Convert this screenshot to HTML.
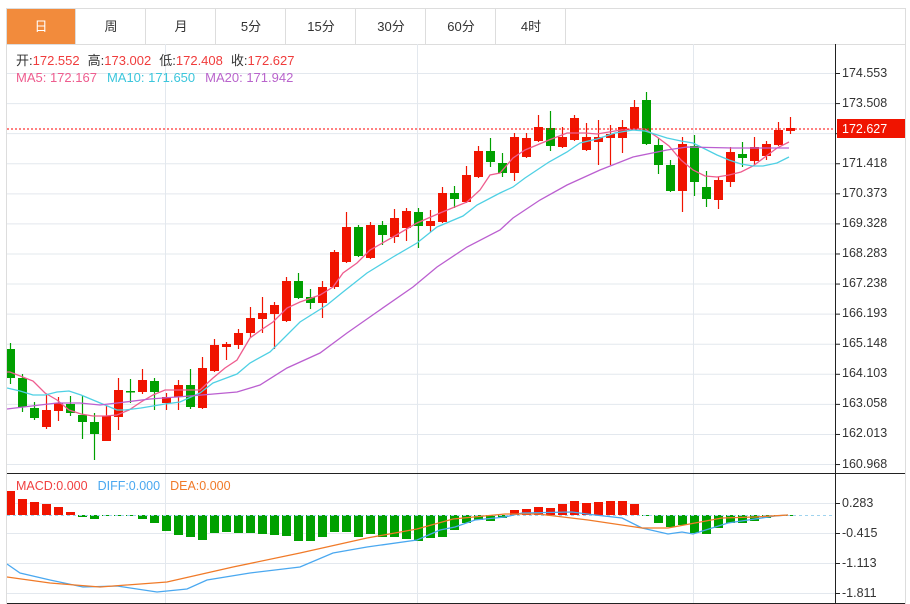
<!DOCTYPE html>
<html><head><meta charset="utf-8"><style>
body{margin:0;background:#fff;width:910px;height:604px;overflow:hidden;font-family:"Liberation Sans","Noto Sans CJK SC",sans-serif}
#w{position:relative;width:910px;height:604px}
.tab{position:absolute;top:9px;height:35px;width:69px;line-height:35px;text-align:center;font-size:13px;color:#333;border-right:1px solid #ddd;box-sizing:border-box}
</style></head><body><div id="w">
<div style="position:absolute;left:6px;top:8px;width:900px;height:37px;border:1px solid #ddd;border-bottom:1px solid #ddd;box-sizing:border-box"></div>
<div class="tab" style="left:7px;background:#f28b3c;color:#fff">日</div>
<div class="tab" style="left:77px">周</div>
<div class="tab" style="left:147px">月</div>
<div class="tab" style="left:217px">5分</div>
<div class="tab" style="left:287px">15分</div>
<div class="tab" style="left:357px">30分</div>
<div class="tab" style="left:427px">60分</div>
<div class="tab" style="left:497px">4时</div>
<svg id="s" width="910" height="604" style="position:absolute;left:0;top:0" font-family="Liberation Sans, Noto Sans CJK SC, sans-serif">
<line x1="6.5" y1="44" x2="6.5" y2="604" stroke="#ddd"/>
<line x1="905.5" y1="44" x2="905.5" y2="604" stroke="#ddd"/>
<g id="grid" stroke="#e3e8ee" stroke-width="1"></g>
<line x1="7" y1="473.5" x2="905" y2="473.5" stroke="#222"/>
<line x1="7" y1="603.5" x2="905" y2="603.5" stroke="#222"/>
<line x1="835.5" y1="44" x2="835.5" y2="604" stroke="#222"/>
<g id="c"></g>
<line x1="7" y1="129" x2="835" y2="129" stroke="#f00" stroke-dasharray="2,2"/>
<rect x="837" y="119" width="68" height="19" fill="#f01400"/>
<text x="842" y="133" font-size="12.5" fill="#fff">172.627</text>
<g font-size="12.5" fill="#333" id="ax">
<text x="842" y="77">174.553</text><text x="842" y="107">173.508</text>
<text x="842" y="167">171.418</text><text x="842" y="197">170.373</text>
<text x="842" y="227">169.328</text><text x="842" y="257">168.283</text>
<text x="842" y="287">167.238</text><text x="842" y="317">166.193</text>
<text x="842" y="347">165.148</text><text x="842" y="377">164.103</text>
<text x="842" y="407">163.058</text><text x="842" y="437">162.013</text>
<text x="842" y="468">160.968</text>
<text x="842" y="507">0.283</text><text x="842" y="537">-0.415</text>
<text x="842" y="567">-1.113</text><text x="842" y="597">-1.811</text>
</g>
<text y="65" font-size="13"><tspan x="16" fill="#333">开:</tspan><tspan fill="#f03c3c">172.552</tspan><tspan fill="#333" dx="8">高:</tspan><tspan fill="#f03c3c">173.002</tspan><tspan fill="#333" dx="8">低:</tspan><tspan fill="#f03c3c">172.408</tspan><tspan fill="#333" dx="8">收:</tspan><tspan fill="#f03c3c">172.627</tspan></text>
<text y="82" font-size="13"><tspan x="16" fill="#ee5d8f">MA5: 172.167</tspan><tspan dx="10" fill="#3cc6dc">MA10: 171.650</tspan><tspan dx="10" fill="#b964cc">MA20: 171.942</tspan></text>
<text y="490" font-size="12.5"><tspan x="16" fill="#f04040">MACD:0.000</tspan><tspan dx="10" fill="#4aa8f0">DIFF:0.000</tspan><tspan dx="10" fill="#f07a28">DEA:0.000</tspan></text>
</svg>
</div>
<script>
var NS="http://www.w3.org/2000/svg",g=document.getElementById('grid'),c=document.getElementById('c');
function el(p,t,a){var e=document.createElementNS(NS,t);for(var k in a)e.setAttribute(k,a[k]);p.appendChild(e);return e;}
for(var i=0;i<14;i++){var y=73.5+i*30.08;el(g,'line',{x1:7,x2:835,y1:y,y2:y});el(g,'line',{x1:835,x2:840,y1:y,y2:y,stroke:'#222'});}
[503,533,563,593].forEach(function(y){el(g,'line',{x1:7,x2:835,y1:y+.5,y2:y+.5});el(g,'line',{x1:835,x2:840,y1:y+.5,y2:y+.5,stroke:'#222'});});
[165.5,417.5,693.5].forEach(function(x){el(g,'line',{x1:x,x2:x,y1:44,y2:603});});
// [top,bottom,high,low,red?]
var K=[[349,378,343,384,0],[378,407,374,412,0],[408,418,402,420,0],[410,427,395,429,1],[403,411,397,421,1],[404,413,396,416,0],[415,422,396,439,0],[422,434,413,460,0],[416,441,406,441,1],[390,417,378,430,1],[391,392,379,403,0],[380,392,369,394,1],[381,392,378,410,0],[397,403,393,410,1],[385,397,380,410,1],[385,407,369,409,0],[368,408,357,409,1],[345,371,339,372,1],[344,347,342,360,1],[333,345,329,349,1],[318,333,307,337,1],[313,319,297,333,1],[305,314,302,349,1],[281,321,277,322,1],[281,298,273,299,0],[297,303,289,309,0],[287,303,281,318,1],[252,287,250,289,1],[227,262,212,263,1],[227,256,225,257,0],[225,258,222,259,1],[225,235,221,245,0],[218,237,209,243,1],[211,228,208,241,1],[212,226,208,248,0],[221,226,210,232,1],[193,222,187,223,1],[193,199,186,208,0],[175,202,166,203,1],[151,177,146,178,1],[151,162,138,167,0],[163,173,153,177,0],[137,173,133,181,1],[138,157,133,158,1],[127,141,115,142,1],[128,146,111,151,0],[137,147,127,148,1],[118,140,115,141,1],[137,150,123,151,1],[137,142,120,165,1],[134,138,125,165,1],[127,138,120,153,1],[107,129,100,130,1],[100,144,92,145,0],[145,165,138,174,0],[165,191,160,192,0],[144,191,137,212,1],[146,182,135,196,0],[187,199,171,207,0],[180,200,177,209,1],[152,182,147,187,1],[154,158,142,167,0],[147,161,137,165,1],[144,156,141,160,1],[130,145,122,146,1],[128,131,117,134,1]];
var M=[491,499,502,504,507,512,517,519,516,516,515,519,523,531,535,537,540,533,532,533,533,534,535,536,541,541,537,532,532,537,534,537,537,539,541,538,537,530,523,520,521,518,510,509,507,508,504,501,503,502,501,501,504,516,523,527,525,533,534,528,523,523,521,518,516,515];
var clip=el(el(c,'defs',{}),'clipPath',{id:'cp'});el(clip,'rect',{x:7,y:44,width:828,height:560});
var cg=el(c,'g',{'clip-path':'url(#cp)'});
K.forEach(function(k,i){var x=10+12*i,col=k[4]?'#f01400':'#00a000';
el(cg,'line',{x1:x+.5,x2:x+.5,y1:k[2],y2:k[3],stroke:col,'stroke-width':1.2});
el(cg,'rect',{x:x-4,y:k[0],width:9,height:Math.max(1.5,k[1]-k[0]),fill:col});
var m=M[i],r=m<515;el(cg,'rect',{x:x-4,y:r?m:515,width:9,height:Math.max(1,Math.abs(m-515)),fill:r?'#f01400':'#00a000'});});
el(cg,'line',{x1:7,x2:835,y1:515.5,y2:515.5,stroke:'#9fd3ee','stroke-dasharray':'3,3'});
function pl(pts,col){el(cg,'polyline',{points:pts,fill:'none',stroke:col,'stroke-width':1.3});}
pl("7,372 10,372 33,381 45,393 57,400 69,410 81,414 93,416 105,416 117,415 129,410 141,402 153,395 165,390 200,390 213,378 225,368 237,360 250,338 261,330 273,322 287,308 300,302 320,295 333,287 343,273 357,263 370,250 393,237 417,223 440,213 467,202 480,190 490,175 500,173 513,158 525,150 537,145 549,140 567,133 585,133 597,134 609,132 621,130 633,129 645,129 657,137 669,146 681,160 693,170 705,176 717,177 729,175 741,172 753,166 765,157 777,148 789,142","#ee5d8f");
pl("7,388 20,391 33,395 45,395 57,392 69,391 81,395 93,400 105,405 117,410 125,410 141,408 153,406 165,404 180,402 200,393 213,383 237,374 250,363 270,352 300,322 327,305 343,292 367,273 393,257 417,243 437,227 463,216 477,205 500,193 513,187 525,178 537,170 549,162 567,152 580,143 597,139 615,133 633,130 645,131 667,138 681,141 693,143 705,149 717,155 729,160 741,164 753,166 763,166 777,163 789,157","#4fd0e4");
pl("7,409 40,405 57,403 80,403 100,405 117,403 150,399 190,396 237,392 260,385 287,368 320,353 347,333 377,312 413,287 437,267 467,247 500,230 513,218 540,200 567,185 600,170 633,157 667,150 687,147 733,148 789,148","#bb5fd0");
pl("7,564 20,573 50,580 83,587 117,586 157,592 187,589 207,580 250,573 300,567 333,553 367,547 417,540 440,530 455,527 475,520 505,517 522,513 572,512 595,515 622,518 642,528 668,534 682,532 693,534 712,528 728,523 755,519 775,516 788,515","#4aa8f0");
pl("7,577 50,583 100,587 167,582 233,567 300,553 367,538 417,529 453,519 505,514 538,514 588,520 642,528 668,528 695,523 722,518 755,517 788,515","#f07a28");
</script>
</body></html>
